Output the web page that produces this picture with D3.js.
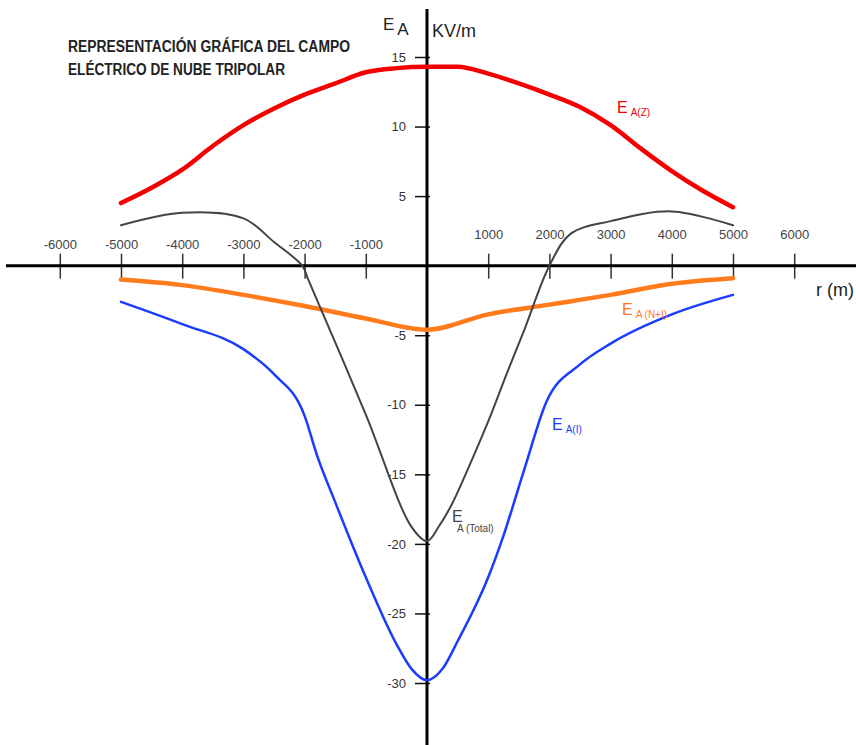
<!DOCTYPE html>
<html>
<head>
<meta charset="utf-8">
<script src="https://cdn.jsdelivr.net/npm/d3@7"></script>
<style>
  body { margin: 0; background: #fff; }
  svg { display: block; font-family: "Liberation Sans", Arial, sans-serif; }
</style>
</head>
<body>
<div id="container"></div>
<script>
/* CONSTANTS AND GLOBALS */
const width = 856;
const height = 745;

/* DATA */
// r (m) and E_A (KV/m)
const rZ = [-5000, -4500, -4000, -3500, -3000, -2500, -2000, -1500, -1000, -500, 0, 500, 1000, 1500, 2000, 2500, 3000, 3500, 4000, 4500, 5000];
const eZ = [4.5, 5.6, 6.9, 8.6, 10.1, 11.3, 12.3, 13.1, 13.9, 14.2, 14.3, 14.3, 13.8, 13.1, 12.3, 11.4, 10.1, 8.4, 6.8, 5.4, 4.2];

const rTotal = [-5000, -4000, -3000, -2500, -2040, -1940, -1000, -250, 0, 200, 400, 650, 1000, 1300, 1600, 2000, 2350, 3000, 4000, 5000];
const eTotal = [2.9, 3.8, 3.4, 1.7, 0, -1.0, -10.7, -18.8, -19.8, -18.7, -17.2, -14.8, -11.2, -7.8, -4.5, 0, 2.3, 3.2, 3.9, 2.9];

const rNI = [-5000, -4000, -3000, -2000, -1000, 0, 1000, 2000, 3000, 4000, 5000];
const eNI = [-1.0, -1.4, -2.1, -2.9, -3.8, -4.6, -3.5, -2.8, -2.1, -1.3, -0.9];

const rI = [-5000, -4000, -3000, -2500, -2000, -1800, -1500, -1000, -500, -250, 0, 250, 500, 1000, 1250, 1600, 1950, 2500, 3000, 4000, 5000];
const eI = [-2.6, -4.2, -6.0, -7.8, -10.8, -13.6, -17.0, -22.4, -27.2, -29.0, -29.8, -29.0, -27.0, -22.4, -19.4, -14.5, -9.8, -7.1, -5.6, -3.5, -2.1];

const xTicks = [-6000, -5000, -4000, -3000, -2000, -1000, 1000, 2000, 3000, 4000, 5000, 6000];
const yTicks = [15, 10, 5, -5, -10, -15, -20, -25, -30];

const titleLines = ["REPRESENTACIÓN GRÁFICA DEL CAMPO", "ELÉCTRICO DE NUBE TRIPOLAR"];

/* SCALES */
const xScale = d3.scaleLinear().domain([-6000, 6000]).range([427 - 6 * 61.2, 427 + 6 * 61.2]);
const yScale = d3.scaleLinear().domain([-30, 15]).range([683, 57]);

/* SVG */
const svg = d3.select("#container")
  .append("svg")
  .attr("width", width)
  .attr("height", height);

const toPts = (rs, es) => rs.map((r, i) => ({ r: r, e: es[i] }));
const lineMono = d3.line()
  .x(d => xScale(d.r))
  .y(d => yScale(d.e))
  .curve(d3.curveMonotoneX);
const lineCR = d3.line()
  .x(d => xScale(d.r))
  .y(d => yScale(d.e))
  .curve(d3.curveCatmullRom.alpha(0.5));

// title
svg.append("g")
  .selectAll("text")
  .data(titleLines)
  .join("text")
  .attr("x", 68)
  .attr("y", (d, i) => 52 + i * 23)
  .attr("textLength", (d, i) => i === 0 ? 282 : 217)
  .attr("lengthAdjust", "spacingAndGlyphs")
  .style("font-family", "'Liberation Sans Narrow', 'Arial Narrow', sans-serif")
  .style("font-size", "16px")
  .style("font-weight", "bold")
  .attr("fill", "#222")
  .text(d => d);

// x-axis
const xAxis = d3.axisTop(xScale)
  .tickValues(xTicks)
  .tickSize(12)
  .tickFormat(d => String(d));
svg.append("g")
  .attr("class", "x-axis")
  .attr("transform", `translate(0, ${yScale(0)})`)
  .call(xAxis)
  .call(g => g.select(".domain").remove())
  .call(g => g.selectAll(".tick line").attr("y1", 13).attr("y2", -12).attr("stroke", "#333").attr("stroke-width", 1.5))
  .call(g => g.selectAll(".tick text")
    .attr("y", d => d < 0 ? -17 : -27)
    .attr("fill", "#444")
    .style("font-size", "13px")
    .style("font-family", "'Liberation Sans', Arial, sans-serif"));

// y-axis
const yAxis = d3.axisLeft(yScale)
  .tickValues(yTicks)
  .tickSize(12)
  .tickPadding(9)
  .tickFormat(d => String(d));
svg.append("g")
  .attr("class", "y-axis")
  .attr("transform", `translate(${xScale(0)}, 0)`)
  .call(yAxis)
  .call(g => g.select(".domain").remove())
  .call(g => g.selectAll(".tick line").attr("x2", -12).attr("x1", 3).attr("stroke", "#111").attr("stroke-width", 1.5))
  .call(g => g.selectAll(".tick text")
    .attr("fill", "#333")
    .style("font-size", "13px")
    .style("font-family", "'Liberation Sans', Arial, sans-serif"));

// main axis lines
svg.append("line")
  .attr("x1", 6).attr("x2", width)
  .attr("y1", yScale(0)).attr("y2", yScale(0))
  .attr("stroke", "#000").attr("stroke-width", 3);
svg.append("line")
  .attr("x1", xScale(0)).attr("x2", xScale(0))
  .attr("y1", 9).attr("y2", height)
  .attr("stroke", "#000").attr("stroke-width", 3);

// curves
const series = [
  { pts: toPts(rNI, eNI), color: "#ff7b1c", w: 4.5, gen: lineMono },
  { pts: toPts(rI, eI), color: "#1a3cff", w: 2.5, gen: lineMono },
  { pts: toPts(rTotal, eTotal), color: "#444", w: 2, gen: lineCR },
  { pts: toPts(rZ, eZ), color: "#f40000", w: 4.5, gen: lineMono }
];
svg.append("g")
  .selectAll("path")
  .data(series)
  .join("path")
  .attr("d", d => d.gen(d.pts))
  .attr("fill", "none")
  .attr("stroke", d => d.color)
  .attr("stroke-width", d => d.w)
  .attr("stroke-linejoin", "round")
  .attr("stroke-linecap", "round");

// axis titles
const yTitle = svg.append("text").attr("x", 383).attr("y", 30).style("font-size", "17px").attr("fill", "#222");
yTitle.append("tspan").text("E");
yTitle.append("tspan").attr("dx", 3).attr("dy", 5).text("A");
svg.append("text").attr("x", 432).attr("y", 37).style("font-size", "18px").attr("fill", "#222").text("KV/m");
svg.append("text").attr("x", 816).attr("y", 296).style("font-size", "18px").attr("fill", "#222").text("r (m)");

// series labels
const seriesLabel = (x, y, sub, color) => {
  const t = svg.append("text").attr("x", x).attr("y", y).attr("fill", color).style("font-size", "16px");
  t.append("tspan").text("E");
  t.append("tspan").attr("dx", 3).attr("dy", 3).style("font-size", "10px").text(sub);
};
seriesLabel(617, 113, "A(Z)", "#f40000");
seriesLabel(622, 315, "A (N+I)", "#ff7b1c");
seriesLabel(552, 430, "A(I)", "#1a3cff");

svg.append("text").attr("x", 452).attr("y", 522).attr("fill", "#444").style("font-size", "16px").text("E");
svg.append("text").attr("x", 457).attr("y", 532).attr("fill", "#444").style("font-size", "10px").text("A (Total)");
</script>
</body>
</html>
